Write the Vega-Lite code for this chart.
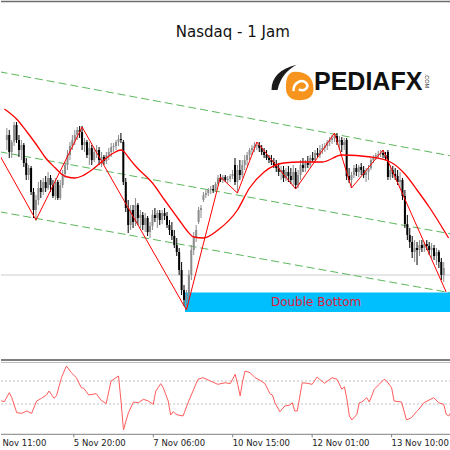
{
 "$schema": "https://vega.github.io/schema/vega-lite/v6.json",
 "padding": 0,
 "spacing": 0,
 "background": "white",
 "config": {"view": {"stroke": null}},
 "datasets": {
  "one": [{}],
  "candles": [
   {"b":3,"o":25500,"h":25560,"l":25450,"c":25525},{"b":4,"o":25525,"h":25550,"l":25410,"c":25440},{"b":5,"o":25440,"h":25500,"l":25410,"c":25490},{"b":6,"o":25490,"h":25590,"l":25470,"c":25575},{"b":7,"o":25575,"h":25590,"l":25485,"c":25500},{"b":8,"o":25500,"h":25525,"l":25415,"c":25450},{"b":9,"o":25450,"h":25500,"l":25400,"c":25475},{"b":10,"o":25475,"h":25485,"l":25365,"c":25385},{"b":11,"o":25385,"h":25410,"l":25300,"c":25325},{"b":12,"o":25325,"h":25375,"l":25300,"c":25360},
   {"b":13,"o":25360,"h":25370,"l":25225,"c":25240},{"b":14,"o":25240,"h":25260,"l":25110,"c":25150},{"b":15,"o":25150,"h":25225,"l":25095,"c":25200},{"b":16,"o":25200,"h":25290,"l":25175,"c":25260},{"b":17,"o":25260,"h":25300,"l":25210,"c":25240},{"b":18,"o":25240,"h":25310,"l":25225,"c":25290},{"b":19,"o":25290,"h":25320,"l":25240,"c":25260},{"b":20,"o":25260,"h":25340,"l":25250,"c":25310},{"b":21,"o":25310,"h":25325,"l":25240,"c":25275},{"b":22,"o":25275,"h":25300,"l":25210,"c":25220},
   {"b":23,"o":25220,"h":25310,"l":25200,"c":25290},{"b":24,"o":25290,"h":25300,"l":25200,"c":25210},{"b":25,"o":25210,"h":25300,"l":25200,"c":25275},{"b":26,"o":25275,"h":25350,"l":25260,"c":25330},{"b":27,"o":25330,"h":25390,"l":25310,"c":25375},{"b":28,"o":25375,"h":25450,"l":25350,"c":25425},{"b":29,"o":25425,"h":25490,"l":25400,"c":25470},{"b":30,"o":25470,"h":25525,"l":25450,"c":25500},{"b":31,"o":25500,"h":25550,"l":25475,"c":25525},{"b":32,"o":25525,"h":25565,"l":25500,"c":25550},
   {"b":33,"o":25550,"h":25570,"l":25510,"c":25540},{"b":34,"o":25540,"h":25570,"l":25450,"c":25475},{"b":35,"o":25475,"h":25510,"l":25440,"c":25490},{"b":36,"o":25490,"h":25500,"l":25410,"c":25425},{"b":37,"o":25425,"h":25490,"l":25375,"c":25460},{"b":38,"o":25460,"h":25475,"l":25375,"c":25400},{"b":39,"o":25400,"h":25460,"l":25390,"c":25440},{"b":40,"o":25440,"h":25475,"l":25410,"c":25450},{"b":41,"o":25450,"h":25465,"l":25375,"c":25400},{"b":42,"o":25400,"h":25440,"l":25365,"c":25415},
   {"b":43,"o":25415,"h":25425,"l":25375,"c":25395},{"b":44,"o":25395,"h":25440,"l":25380,"c":25425},{"b":45,"o":25425,"h":25460,"l":25400,"c":25440},{"b":46,"o":25440,"h":25485,"l":25415,"c":25465},{"b":47,"o":25465,"h":25485,"l":25440,"c":25470},{"b":48,"o":25470,"h":25500,"l":25450,"c":25490},{"b":49,"o":25490,"h":25525,"l":25470,"c":25505},{"b":50,"o":25505,"h":25535,"l":25485,"c":25500},{"b":51,"o":25490,"h":25500,"l":25275,"c":25290},{"b":52,"o":25290,"h":25310,"l":25140,"c":25160},
   {"b":53,"o":25160,"h":25200,"l":25035,"c":25075},{"b":54,"o":25075,"h":25175,"l":25050,"c":25150},{"b":55,"o":25150,"h":25175,"l":25060,"c":25090},{"b":56,"o":25090,"h":25210,"l":25070,"c":25175},{"b":57,"o":25175,"h":25185,"l":25075,"c":25110},{"b":58,"o":25110,"h":25150,"l":25060,"c":25125},{"b":59,"o":25125,"h":25140,"l":25050,"c":25075},{"b":60,"o":25075,"h":25135,"l":25040,"c":25110},{"b":61,"o":25110,"h":25120,"l":25020,"c":25040},{"b":62,"o":25040,"h":25090,"l":25010,"c":25070},
   {"b":63,"o":25070,"h":25150,"l":25050,"c":25125},{"b":64,"o":25125,"h":25160,"l":25090,"c":25110},{"b":65,"o":25110,"h":25150,"l":25060,"c":25135},{"b":66,"o":25135,"h":25150,"l":25075,"c":25100},{"b":67,"o":25100,"h":25150,"l":25080,"c":25135},{"b":68,"o":25135,"h":25160,"l":25100,"c":25120},{"b":69,"o":25120,"h":25140,"l":25060,"c":25075},{"b":70,"o":25075,"h":25100,"l":25025,"c":25050},{"b":71,"o":25050,"h":25090,"l":25000,"c":25020},{"b":72,"o":25020,"h":25050,"l":24960,"c":24975},
   {"b":73,"o":24975,"h":25010,"l":24920,"c":24940},{"b":74,"o":24940,"h":24960,"l":24825,"c":24850},{"b":75,"o":24850,"h":24890,"l":24725,"c":24750},{"b":76,"o":24750,"h":24775,"l":24670,"c":24700},{"b":77,"o":24700,"h":24750,"l":24650,"c":24725},{"b":78,"o":24725,"h":24850,"l":24700,"c":24825},{"b":79,"o":24825,"h":24975,"l":24800,"c":24950},{"b":80,"o":24950,"h":25040,"l":24925,"c":25010},{"b":81,"o":25010,"h":25075,"l":24990,"c":25050},{"b":82,"o":25090,"h":25165,"l":25080,"c":25150},
   {"b":83,"o":25150,"h":25175,"l":25110,"c":25160},{"b":84,"o":25200,"h":25240,"l":25190,"c":25225},{"b":85,"o":25225,"h":25250,"l":25210,"c":25235},{"b":86,"o":25235,"h":25260,"l":25220,"c":25250},{"b":87,"o":25250,"h":25270,"l":25230,"c":25255},{"b":88,"o":25255,"h":25275,"l":25235,"c":25250},{"b":89,"o":25250,"h":25290,"l":25240,"c":25280},{"b":90,"o":25280,"h":25325,"l":25270,"c":25310},{"b":91,"o":25310,"h":25330,"l":25290,"c":25300},{"b":92,"o":25300,"h":25325,"l":25285,"c":25315},
   {"b":93,"o":25315,"h":25325,"l":25290,"c":25300},{"b":94,"o":25300,"h":25320,"l":25285,"c":25305},{"b":95,"o":25305,"h":25330,"l":25290,"c":25320},{"b":96,"o":25320,"h":25350,"l":25305,"c":25330},{"b":97,"o":25375,"h":25410,"l":25275,"c":25290},{"b":98,"o":25290,"h":25375,"l":25235,"c":25350},{"b":99,"o":25350,"h":25400,"l":25300,"c":25325},{"b":100,"o":25325,"h":25400,"l":25310,"c":25375},{"b":101,"o":25375,"h":25425,"l":25350,"c":25400},{"b":102,"o":25400,"h":25440,"l":25370,"c":25425},
   {"b":103,"o":25425,"h":25460,"l":25400,"c":25450},{"b":104,"o":25450,"h":25475,"l":25425,"c":25460},{"b":105,"o":25460,"h":25490,"l":25440,"c":25470},{"b":106,"o":25470,"h":25490,"l":25450,"c":25475},{"b":107,"o":25475,"h":25490,"l":25440,"c":25460},{"b":108,"o":25460,"h":25475,"l":25425,"c":25440},{"b":109,"o":25440,"h":25460,"l":25410,"c":25425},{"b":110,"o":25425,"h":25450,"l":25400,"c":25410},{"b":111,"o":25410,"h":25425,"l":25385,"c":25400},{"b":112,"o":25400,"h":25425,"l":25375,"c":25390},
   {"b":113,"o":25390,"h":25410,"l":25360,"c":25375},{"b":114,"o":25375,"h":25400,"l":25340,"c":25360},{"b":115,"o":25360,"h":25385,"l":25320,"c":25340},{"b":116,"o":25340,"h":25370,"l":25300,"c":25350},{"b":117,"o":25350,"h":25370,"l":25290,"c":25310},{"b":118,"o":25310,"h":25360,"l":25295,"c":25340},{"b":119,"o":25340,"h":25370,"l":25290,"c":25320},{"b":120,"o":25320,"h":25360,"l":25280,"c":25300},{"b":121,"o":25300,"h":25375,"l":25270,"c":25340},{"b":122,"o":25340,"h":25360,"l":25255,"c":25275},
   {"b":123,"o":25275,"h":25350,"l":25260,"c":25325},{"b":124,"o":25325,"h":25400,"l":25300,"c":25375},{"b":125,"o":25375,"h":25410,"l":25340,"c":25360},{"b":126,"o":25360,"h":25400,"l":25340,"c":25385},{"b":127,"o":25385,"h":25420,"l":25360,"c":25375},{"b":128,"o":25375,"h":25425,"l":25360,"c":25410},{"b":129,"o":25410,"h":25440,"l":25390,"c":25400},{"b":130,"o":25400,"h":25450,"l":25385,"c":25435},{"b":131,"o":25435,"h":25460,"l":25410,"c":25425},{"b":132,"o":25425,"h":25475,"l":25410,"c":25450},
   {"b":133,"o":25450,"h":25480,"l":25430,"c":25460},{"b":134,"o":25460,"h":25485,"l":25440,"c":25470},{"b":135,"o":25470,"h":25500,"l":25450,"c":25490},{"b":136,"o":25490,"h":25515,"l":25470,"c":25500},{"b":137,"o":25500,"h":25525,"l":25480,"c":25510},{"b":138,"o":25510,"h":25535,"l":25490,"c":25520},{"b":139,"o":25520,"h":25535,"l":25475,"c":25490},{"b":140,"o":25490,"h":25520,"l":25450,"c":25500},{"b":141,"o":25500,"h":25515,"l":25440,"c":25475},{"b":142,"o":25475,"h":25510,"l":25450,"c":25490},
   {"b":143,"o":25500,"h":25510,"l":25300,"c":25320},{"b":144,"o":25320,"h":25360,"l":25285,"c":25300},{"b":145,"o":25300,"h":25340,"l":25260,"c":25325},{"b":146,"o":25325,"h":25375,"l":25310,"c":25360},{"b":147,"o":25360,"h":25380,"l":25320,"c":25340},{"b":148,"o":25340,"h":25375,"l":25315,"c":25365},{"b":149,"o":25365,"h":25385,"l":25325,"c":25350},{"b":150,"o":25350,"h":25370,"l":25310,"c":25325},{"b":151,"o":25325,"h":25360,"l":25290,"c":25340},{"b":152,"o":25340,"h":25375,"l":25300,"c":25360},
   {"b":153,"o":25360,"h":25410,"l":25350,"c":25400},{"b":154,"o":25400,"h":25425,"l":25385,"c":25415},{"b":155,"o":25415,"h":25435,"l":25400,"c":25425},{"b":156,"o":25425,"h":25445,"l":25410,"c":25430},{"b":157,"o":25430,"h":25450,"l":25415,"c":25435},{"b":158,"o":25435,"h":25450,"l":25410,"c":25425},{"b":159,"o":25425,"h":25440,"l":25400,"c":25410},{"b":160,"o":25440,"h":25450,"l":25300,"c":25315},{"b":161,"o":25315,"h":25375,"l":25300,"c":25350},{"b":162,"o":25350,"h":25370,"l":25310,"c":25330},
   {"b":163,"o":25330,"h":25360,"l":25300,"c":25320},{"b":164,"o":25320,"h":25350,"l":25275,"c":25290},{"b":165,"o":25290,"h":25340,"l":25260,"c":25300},{"b":166,"o":25300,"h":25310,"l":25200,"c":25220},{"b":167,"o":25220,"h":25250,"l":25060,"c":25080},{"b":168,"o":25080,"h":25125,"l":25000,"c":25025},{"b":169,"o":25025,"h":25060,"l":24960,"c":24990},{"b":170,"o":24990,"h":25020,"l":24910,"c":24940},{"b":171,"o":24940,"h":25000,"l":24890,"c":24960},{"b":172,"o":24960,"h":24990,"l":24875,"c":24950},
   {"b":173,"o":24950,"h":25000,"l":24920,"c":24975},{"b":174,"o":24975,"h":25000,"l":24940,"c":24960},{"b":175,"o":24960,"h":24990,"l":24940,"c":24980},{"b":176,"o":24980,"h":25000,"l":24950,"c":24970},{"b":177,"o":24970,"h":24990,"l":24925,"c":24950},{"b":178,"o":24950,"h":24985,"l":24910,"c":24960},{"b":179,"o":24960,"h":24975,"l":24900,"c":24920},{"b":180,"o":24920,"h":24960,"l":24875,"c":24940},{"b":181,"o":24940,"h":24950,"l":24860,"c":24890},{"b":182,"o":24890,"h":24910,"l":24800,"c":24825},
   {"b":183,"o":24825,"h":24890,"l":24790,"c":24860}
  ],
  "ma": [
   {"b":2,"p":25655},{"b":7,"p":25605},{"b":11,"p":25545},{"b":15,"p":25480},{"b":19,"p":25410},{"b":23,"p":25360},{"b":26,"p":25325},{"b":28,"p":25315},{"b":31,"p":25310},{"b":34,"p":25320},{"b":38,"p":25350},{"b":43,"p":25400},{"b":47,"p":25435},{"b":50,"p":25450},{"b":51,"p":25445},{"b":53,"p":25415},{"b":56,"p":25370},{"b":63,"p":25285},{"b":68,"p":25200},{"b":74,"p":25100},{"b":77,"p":25050},{"b":80,"p":25015},{"b":84,"p":25010},{"b":90,"p":25050},{"b":98,"p":25150},{"b":103,"p":25260},{"b":109,"p":25340},{"b":117,"p":25385},{"b":124,"p":25390},{"b":133,"p":25390},{"b":141,"p":25425},{"b":153,"p":25415},{"b":161,"p":25390},{"b":167,"p":25330},{"b":172,"p":25250},{"b":177,"p":25165},{"b":183,"p":25050},{"b":185,"p":25010}
  ],
  "zz": [
   {"b":0,"p":25425},{"b":15,"p":25100},{"b":34,"p":25565},{"b":77,"p":24650},{"b":91,"p":25315},{"b":98,"p":25235},{"b":106,"p":25490},{"b":122,"p":25255},{"b":138,"p":25535},{"b":145,"p":25260},{"b":158,"p":25450},{"b":184,"p":24740}
  ],
  "chan": [
   {"g":"top","b":0,"p":25841},{"g":"top","b":186,"p":25420.5},
   {"g":"mid","b":0,"p":25441},{"g":"mid","b":186,"p":25030.5},
   {"g":"low","b":0,"p":25141},{"g":"low","b":186,"p":24735.5}
  ],
  "box": [{"b1":76.4,"b2":190,"p1":24737.5,"p2":24640,"label":"Double Bottom"}],
  "osc": [
   {"b":2,"v":-74},{"b":3,"v":-74},{"b":4,"v":-80},{"b":6,"v":-2},{"b":7,"v":-45},{"b":9,"v":-176},{"b":11,"v":-181},{"b":13,"v":-161},{"b":15,"v":-181},{"b":17,"v":-74},{"b":19,"v":-50},{"b":21,"v":-22},{"b":22,"v":13},{"b":24,"v":-50},{"b":25,"v":-30},{"b":27,"v":129},{"b":29,"v":230},{"b":31,"v":172},{"b":33,"v":129},{"b":35,"v":42},{"b":36,"v":37},{"b":38,"v":-22},{"b":41,"v":-10},{"b":43,"v":-68},{"b":45,"v":-97},{"b":47,"v":100},{"b":50,"v":143},{"b":51,"v":-74},{"b":52,"v":-326},{"b":53,"v":-248},{"b":54,"v":-176},{"b":56,"v":-83},{"b":58,"v":-89},{"b":60,"v":-59},{"b":62,"v":-74},{"b":64,"v":-103},{"b":65,"v":13},{"b":67,"v":77},{"b":68,"v":42},{"b":70,"v":-74},{"b":71,"v":-196},{"b":72,"v":-167},{"b":73,"v":-185},{"b":74,"v":-196},{"b":76,"v":-204},{"b":78,"v":-89},{"b":80,"v":13},{"b":82,"v":115},{"b":84,"v":129},{"b":87,"v":100},{"b":90,"v":71},{"b":93,"v":85},{"b":95,"v":77},{"b":97,"v":158},{"b":98,"v":71},{"b":99,"v":-30},{"b":100,"v":100},{"b":101,"v":187},{"b":103,"v":172},{"b":105,"v":129},{"b":107,"v":106},{"b":109,"v":77},{"b":111,"v":-10},{"b":112,"v":-22},{"b":113,"v":-89},{"b":115,"v":-167},{"b":117,"v":-117},{"b":119,"v":-109},{"b":120,"v":-89},{"b":121,"v":-161},{"b":122,"v":-161},{"b":124,"v":85},{"b":126,"v":80},{"b":128,"v":71},{"b":130,"v":135},{"b":131,"v":115},{"b":133,"v":80},{"b":136,"v":129},{"b":138,"v":115},{"b":140,"v":28},{"b":141,"v":50},{"b":142,"v":-59},{"b":143,"v":-204},{"b":144,"v":-239},{"b":146,"v":-190},{"b":147,"v":-89},{"b":148,"v":-83},{"b":150,"v":-45},{"b":151,"v":-83},{"b":152,"v":-30},{"b":153,"v":28},{"b":155,"v":71},{"b":157,"v":115},{"b":158,"v":100},{"b":160,"v":42},{"b":161,"v":-74},{"b":164,"v":-83},{"b":166,"v":-239},{"b":168,"v":-219},{"b":170,"v":-167},{"b":171,"v":-146},{"b":173,"v":-89},{"b":177,"v":-45},{"b":179,"v":-89},{"b":181,"v":-103},{"b":182,"v":-190},{"b":183,"v":-204},{"b":184,"v":-170}
  ],
  "ticks": [{"b":32},{"b":64},{"b":96},{"b":128},{"b":160}],
  "labels": [
   {"b":0,"t":"4 Nov 11:00"},{"b":32,"t":"5 Nov 20:00"},{"b":64,"t":"7 Nov 06:00"},{"b":96,"t":"10 Nov 15:00"},{"b":128,"t":"12 Nov 01:00"},{"b":160,"t":"13 Nov 10:00"}
  ]
 },
 "vconcat": [
  {
   "width": 450,
   "height": 361,
   "layer": [
    {"data": {"name": "one"}, "mark": {"type": "rule", "color": "#6e6e6e", "strokeWidth": 1.5},
     "encoding": {"y": {"datum": 26192.5, "type": "quantitative", "scale": {"domain": [24395, 26200], "nice": false, "zero": false}, "axis": null}}},
    {"data": {"name": "one"}, "mark": {"type": "rule", "color": "#cccccc", "strokeWidth": 1},
     "encoding": {"y": {"datum": 24825, "type": "quantitative", "scale": {"domain": [24395, 26200], "nice": false, "zero": false}, "axis": null}}},
    {"data": {"name": "chan"},
     "mark": {"type": "line", "color": "#5cb85c", "strokeWidth": 1, "strokeDash": [8, 4], "clip": true},
     "encoding": {
      "x": {"field": "b", "type": "quantitative", "scale": {"domain": [2.6586, 183.93], "nice": false, "zero": false}, "axis": null},
      "y": {"field": "p", "type": "quantitative", "scale": {"domain": [24395, 26200], "nice": false, "zero": false}, "axis": null},
      "detail": {"field": "g"}}},
    {"data": {"name": "box"},
     "mark": {"type": "rect", "color": "#00bfff", "clip": true},
     "encoding": {
      "x": {"field": "b1", "type": "quantitative", "scale": {"domain": [2.6586, 183.93], "nice": false, "zero": false}, "axis": null},
      "x2": {"field": "b2"},
      "y": {"field": "p1", "type": "quantitative", "scale": {"domain": [24395, 26200], "nice": false, "zero": false}, "axis": null},
      "y2": {"field": "p2"}}},
    {"data": {"name": "candles"},
     "mark": {"type": "rule", "strokeWidth": 1, "clip": true},
     "encoding": {
      "x": {"field": "b", "type": "quantitative", "scale": {"domain": [2.6586, 183.93], "nice": false, "zero": false}, "axis": null},
      "y": {"field": "l", "type": "quantitative", "scale": {"domain": [24395, 26200], "nice": false, "zero": false}, "axis": null},
      "y2": {"field": "h"},
      "color": {"condition": {"test": "datum.c >= datum.o", "value": "#8c8c8c"}, "value": "#000000"}}},
    {"data": {"name": "candles"},
     "mark": {"type": "bar", "width": 2, "clip": true},
     "encoding": {
      "x": {"field": "b", "type": "quantitative", "scale": {"domain": [2.6586, 183.93], "nice": false, "zero": false}, "axis": null},
      "y": {"field": "o", "type": "quantitative", "scale": {"domain": [24395, 26200], "nice": false, "zero": false}, "axis": null},
      "y2": {"field": "c"},
      "color": {"condition": {"test": "datum.c >= datum.o", "value": "#8c8c8c"}, "value": "#000000"}}},
    {"data": {"name": "ma"},
     "mark": {"type": "line", "color": "#ff0000", "strokeWidth": 1.3, "interpolate": "monotone", "clip": true},
     "encoding": {
      "x": {"field": "b", "type": "quantitative", "scale": {"domain": [2.6586, 183.93], "nice": false, "zero": false}, "axis": null},
      "y": {"field": "p", "type": "quantitative", "scale": {"domain": [24395, 26200], "nice": false, "zero": false}, "axis": null}}},
    {"data": {"name": "zz"},
     "mark": {"type": "line", "color": "#ff0000", "strokeWidth": 1, "clip": true},
     "encoding": {
      "x": {"field": "b", "type": "quantitative", "scale": {"domain": [2.6586, 183.93], "nice": false, "zero": false}, "axis": null},
      "y": {"field": "p", "type": "quantitative", "scale": {"domain": [24395, 26200], "nice": false, "zero": false}, "axis": null}}},
    {"data": {"name": "box"},
     "mark": {"type": "text", "color": "#dc1e3c", "fontSize": 12, "font": "DejaVu Sans", "align": "center", "baseline": "middle"},
     "encoding": {
      "x": {"datum": 130.4, "type": "quantitative", "scale": {"domain": [2.6586, 183.93], "nice": false, "zero": false}, "axis": null},
      "y": {"datum": 24690, "type": "quantitative", "scale": {"domain": [24395, 26200], "nice": false, "zero": false}, "axis": null},
      "text": {"field": "label"}}},
    {"data": {"name": "one"}, "mark": {"type": "rule", "color": "#7f7f7f", "strokeWidth": 2},
     "encoding": {"y": {"datum": 24400, "type": "quantitative", "scale": {"domain": [24395, 26200], "nice": false, "zero": false}, "axis": null}}},
    {"data": {"name": "one"}, "mark": {"type": "text", "color": "#111111", "fontSize": 15, "font": "DejaVu Sans", "align": "center", "baseline": "middle"},
     "encoding": {
      "x": {"datum": 96.1, "type": "quantitative", "scale": {"domain": [2.6586, 183.93], "nice": false, "zero": false}, "axis": null},
      "y": {"datum": 26040, "type": "quantitative", "scale": {"domain": [24395, 26200], "nice": false, "zero": false}, "axis": null},
      "text": {"value": "Nasdaq - 1 Jam"}}},
    {"data": {"name": "one"}, "mark": {"type": "point", "filled": true, "opacity": 1, "color": "#f7941d", "size": 800, "shape": "M -0.3 -1 C 0.6 -1 1 -0.5 1 0.2 C 1 0.8 0.6 1 0 1 C -0.6 1 -0.95 0.7 -0.95 0.1 C -0.95 -0.5 -0.8 -1 -0.3 -1 Z"},
     "encoding": {
      "x": {"datum": 123.5, "type": "quantitative", "scale": {"domain": [2.6586, 183.93], "nice": false, "zero": false}, "axis": null},
      "y": {"datum": 25770, "type": "quantitative", "scale": {"domain": [24395, 26200], "nice": false, "zero": false}, "axis": null}}},
    {"data": {"name": "one"}, "mark": {"type": "point", "filled": false, "opacity": 1, "color": "#ffffff", "strokeWidth": 2.5, "size": 300, "shape": "M -0.8 0.6 C -0.9 -0.4 0.2 -0.9 0.7 -0.3 C 1 0.2 0.4 0.7 -0.2 0.4"},
     "encoding": {
      "x": {"datum": 124, "type": "quantitative", "scale": {"domain": [2.6586, 183.93], "nice": false, "zero": false}, "axis": null},
      "y": {"datum": 25770, "type": "quantitative", "scale": {"domain": [24395, 26200], "nice": false, "zero": false}, "axis": null}}},
    {"data": {"name": "one"}, "mark": {"type": "point", "filled": true, "opacity": 1, "color": "#1a1a1a", "size": 700, "shape": "M -1 0.9 C -1 0 -0.4 -0.7 0.9 -1 C 0.2 -0.6 -0.3 -0.1 -0.55 0.9 Z"},
     "encoding": {
      "x": {"datum": 117.5, "type": "quantitative", "scale": {"domain": [2.6586, 183.93], "nice": false, "zero": false}, "axis": null},
      "y": {"datum": 25810, "type": "quantitative", "scale": {"domain": [24395, 26200], "nice": false, "zero": false}, "axis": null}}},
    {"data": {"name": "one"}, "mark": {"type": "text", "color": "#111111", "fontSize": 25, "fontWeight": "bold", "font": "Liberation Sans", "align": "left", "baseline": "alphabetic"},
     "encoding": {
      "x": {"datum": 129.55, "type": "quantitative", "scale": {"domain": [2.6586, 183.93], "nice": false, "zero": false}, "axis": null},
      "y": {"datum": 25750, "type": "quantitative", "scale": {"domain": [24395, 26200], "nice": false, "zero": false}, "axis": null},
      "text": {"value": "PEDIAFX"}}},
    {"data": {"name": "one"}, "mark": {"type": "text", "color": "#333333", "fontSize": 5.5, "font": "Liberation Sans", "align": "center", "baseline": "middle", "angle": 90},
     "encoding": {
      "x": {"datum": 175.9, "type": "quantitative", "scale": {"domain": [2.6586, 183.93], "nice": false, "zero": false}, "axis": null},
      "y": {"datum": 25795, "type": "quantitative", "scale": {"domain": [24395, 26200], "nice": false, "zero": false}, "axis": null},
      "text": {"value": ".COM"}}}
   ]
  },
  {
   "width": 450,
   "height": 89,
   "layer": [
    {"data": {"name": "one"}, "mark": {"type": "rule", "color": "#bdbdbd", "strokeWidth": 1},
     "encoding": {"y": {"datum": 260.9, "type": "quantitative", "scale": {"domain": [-508.7, 265.2], "nice": false, "zero": false}, "axis": null}}},
    {"data": {"name": "one"}, "mark": {"type": "rule", "color": "#c0c0c0", "strokeWidth": 1, "strokeDash": [2, 2]},
     "encoding": {"y": {"datum": 100, "type": "quantitative", "scale": {"domain": [-508.7, 265.2], "nice": false, "zero": false}, "axis": null}}},
    {"data": {"name": "one"}, "mark": {"type": "rule", "color": "#c0c0c0", "strokeWidth": 1, "strokeDash": [2, 2]},
     "encoding": {"y": {"datum": -100, "type": "quantitative", "scale": {"domain": [-508.7, 265.2], "nice": false, "zero": false}, "axis": null}}},
    {"data": {"name": "osc"},
     "mark": {"type": "line", "color": "#ff5c5c", "strokeWidth": 1, "clip": true},
     "encoding": {
      "x": {"field": "b", "type": "quantitative", "scale": {"domain": [2.6586, 183.93], "nice": false, "zero": false}, "axis": null},
      "y": {"field": "v", "type": "quantitative", "scale": {"domain": [-508.7, 265.2], "nice": false, "zero": false}, "axis": null}}},
    {"data": {"name": "one"}, "mark": {"type": "rule", "color": "#808080", "strokeWidth": 1},
     "encoding": {"y": {"datum": -363.5, "type": "quantitative", "scale": {"domain": [-508.7, 265.2], "nice": false, "zero": false}, "axis": null}}},
    {"data": {"name": "ticks"},
     "mark": {"type": "rule", "color": "#808080", "strokeWidth": 1, "clip": true},
     "encoding": {
      "x": {"field": "b", "type": "quantitative", "scale": {"domain": [2.6586, 183.93], "nice": false, "zero": false}, "axis": null},
      "y": {"datum": -363.5, "type": "quantitative", "scale": {"domain": [-508.7, 265.2], "nice": false, "zero": false}, "axis": null},
      "y2": {"datum": -389.6}}},
    {"data": {"name": "labels"},
     "mark": {"type": "text", "color": "#222222", "fontSize": 8.5, "font": "DejaVu Sans", "align": "left", "baseline": "middle", "clip": true},
     "encoding": {
      "x": {"field": "b", "type": "quantitative", "scale": {"domain": [2.6586, 183.93], "nice": false, "zero": false}, "axis": null},
      "y": {"datum": -436.5, "type": "quantitative", "scale": {"domain": [-508.7, 265.2], "nice": false, "zero": false}, "axis": null},
      "text": {"field": "t"}}}
   ]
  }
 ]
}
